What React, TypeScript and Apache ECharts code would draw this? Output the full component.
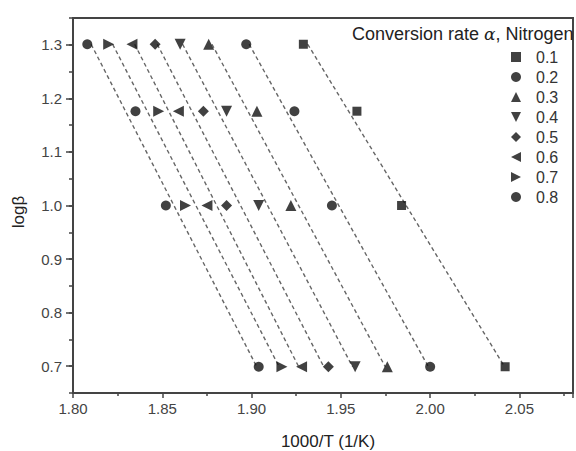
import React, { useEffect, useRef } from "react";
import * as echarts from "echarts";

// log(beta) levels (heating rates 20, 15, 10, 5 K/min)
const logBeta = [1.301, 1.176, 1.0, 0.699];

// conversion labels
const conversions = ["0.1", "0.2", "0.3", "0.4", "0.5", "0.6", "0.7", "0.8"];

// 1000/T values for each conversion, ordered as logBeta
const x01 = [1.929, 1.959, 1.984, 2.042];
const x02 = [1.897, 1.924, 1.945, 2.0];
const x03 = [1.876, 1.903, 1.922, 1.976];
const x04 = [1.86, 1.886, 1.904, 1.958];
const x05 = [1.846, 1.873, 1.886, 1.943];
const x06 = [1.833, 1.859, 1.875, 1.928];
const x07 = [1.82, 1.848, 1.863, 1.917];
const x08 = [1.808, 1.835, 1.852, 1.904];
const xSeries = [x01, x02, x03, x04, x05, x06, x07, x08];

const yLabels = [0.7, 0.8, 0.9, 1.0, 1.1, 1.2, 1.3];

const symbols = ["rect", "circle", "triangle", "triangle", "diamond", "triangle", "triangle", "circle"];
const rotations = [0, 0, 0, 180, 0, 90, -90, 0];
const sizes = [9, 10, 11, 11, 11, 11, 11, 10];
const legendIcons = [
  "rect",
  "circle",
  "path://M5,0 L10,10 L0,10 Z",
  "path://M0,0 L10,0 L5,10 Z",
  "diamond",
  "path://M0,5 L10,0 L10,10 Z",
  "path://M0,0 L10,5 L0,10 Z",
  "circle",
];

const FONT = "'Liberation Sans', Arial, Helvetica, sans-serif";

function fitLine(xs: number[], ys: number[]): number[][] {
  // regression x = a + b*y
  const n = xs.length;
  const my = ys.reduce((s, v) => s + v, 0) / n;
  const mx = xs.reduce((s, v) => s + v, 0) / n;
  let sxy = 0;
  let syy = 0;
  for (let i = 0; i < n; i++) {
    sxy += (ys[i] - my) * (xs[i] - mx);
    syy += (ys[i] - my) * (ys[i] - my);
  }
  const b = sxy / syy;
  const a = mx - b * my;
  const yTop = Math.max(...ys);
  const yBot = Math.min(...ys);
  return [
    [a + b * yTop, yTop],
    [a + b * yBot, yBot],
  ];
}

export default function App() {
  const ref = useRef<HTMLDivElement>(null);
  useEffect(() => {
    if (!ref.current) return;
    const chart = echarts.init(ref.current, null, { renderer: "svg" });
    const axisColor = "#444";
    const grid = { left: 73, top: 18, width: 518, height: 375 };

    const scatterSeries = conversions.map((name, i) => ({
      name,
      type: "scatter",
      xAxisIndex: 0,
      yAxisIndex: 0,
      data: xSeries[i].map((x, j) => [x, logBeta[j]]),
      symbol: symbols[i],
      symbolRotate: rotations[i],
      symbolSize: sizes[i],
      itemStyle: { color: "#111" },
      z: 5,
    }));
    const lineSeries = conversions.map((name, i) => ({
      name: "fit " + name,
      type: "line",
      xAxisIndex: 0,
      yAxisIndex: 0,
      data: fitLine(xSeries[i], logBeta),
      showSymbol: false,
      symbol: "none",
      silent: true,
      lineStyle: { color: "#666", width: 1.4, type: [4, 3] },
      z: 2,
    }));

    chart.setOption({
      animation: false,
      backgroundColor: "#fff",
      textStyle: { fontFamily: FONT },
      title: {
        text: "{a|Conversion rate }{b|α}{a|, Nitrogen}",
        left: 352,
        top: 25,
        padding: 0,
        textStyle: {
          fontWeight: "normal",
          rich: {
            a: { fontSize: 18, color: "#222", fontFamily: FONT, fontWeight: "normal" },
            b: { fontSize: 17, color: "#222", fontFamily: "'DejaVu Serif', serif", fontStyle: "italic", fontWeight: "normal" },
          },
        },
      },
      legend: {
        data: conversions.map((name, i) => ({ name, icon: legendIcons[i] })),
        orient: "vertical",
        left: 511,
        top: 49,
        padding: 0,
        itemWidth: 10,
        itemHeight: 10,
        itemGap: 4,
        textStyle: { fontSize: 16, color: "#333", fontFamily: FONT, padding: [0, 0, 0, 10] },
      },
      grid: [
        { ...grid, show: true, borderColor: axisColor, borderWidth: 2, backgroundColor: "transparent" },
        { ...grid, show: false },
      ],
      xAxis: [
        {
          type: "value",
          gridIndex: 0,
          min: 1.8,
          max: 2.08,
          interval: 0.05,
          axisLine: { show: true, lineStyle: { color: axisColor, width: 2 } },
          axisTick: { show: true, inside: false, length: 5, lineStyle: { color: axisColor, width: 1.5 } },
          minorTick: { show: true, splitNumber: 2, length: 3, lineStyle: { color: axisColor, width: 1.5 } },
          axisLabel: {
            fontSize: 15,
            color: "#444",
            margin: 8,
            formatter: (v: number) => (v > 2.06 ? "" : v.toFixed(2)),
          },
          splitLine: { show: false },
        },
        { type: "value", gridIndex: 1, min: 1.8, max: 2.08, show: false },
      ],
      yAxis: [
        {
          type: "value",
          gridIndex: 0,
          min: 0.65,
          max: 1.35,
          axisLine: { show: true, lineStyle: { color: axisColor, width: 2 } },
          axisTick: {
            show: true,
            inside: false,
            length: 7,
            customValues: yLabels,
            lineStyle: { color: axisColor, width: 1.5 },
          },
          axisLabel: {
            fontSize: 15,
            color: "#444",
            margin: 11,
            customValues: yLabels,
            formatter: (v: number) => v.toFixed(1),
          },
          splitLine: { show: false },
        },
        {
          type: "value",
          gridIndex: 1,
          min: 0.65,
          max: 1.35,
          interval: 0.05,
          axisLine: { show: false },
          axisTick: { show: true, inside: false, length: 4, lineStyle: { color: axisColor, width: 1.5 } },
          axisLabel: { show: false },
          splitLine: { show: false },
        },
      ],
      graphic: [
        {
          type: "text",
          x: 328,
          y: 441,
          style: {
            text: "1000/T (1/K)",
            fontSize: 17,
            fontFamily: FONT,
            fill: "#222",
            textAlign: "center",
            textVerticalAlign: "middle",
          },
        },
        {
          type: "text",
          x: 18,
          y: 212,
          rotation: Math.PI / 2,
          style: {
            text: "logβ",
            fontSize: 17,
            fontFamily: FONT,
            fill: "#222",
            textAlign: "center",
            textVerticalAlign: "middle",
          },
        },
      ],
      series: [...lineSeries, ...scatterSeries],
    });
    return () => chart.dispose();
  }, []);
  return <div ref={ref} style={{ position: "fixed", left: 0, top: 0, width: 576, height: 451 }} />;
}
